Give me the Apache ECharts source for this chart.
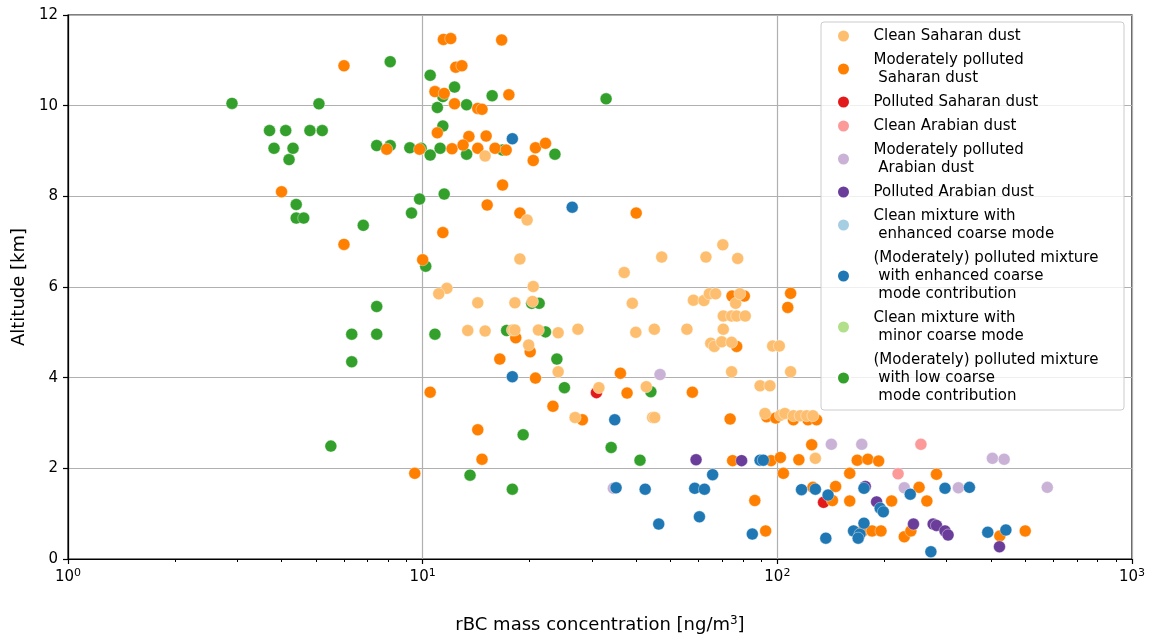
<!DOCTYPE html>
<html>
<head>
<meta charset="utf-8">
<script src="https://cdn.jsdelivr.net/npm/echarts@6/dist/echarts.min.js"></script>
<style>
html,body{margin:0;padding:0;background:#fff;}
#chart{width:1151px;height:637px;}
</style>
</head>
<body>
<div id="chart"></div>
<script>
// ---- Data (x: rBC mass concentration [ng/m3], y: altitude [km]) ----
const cleanSaharan = [
  [15.0,8.89],[19.7,7.48],[18.8,6.62],[11.7,5.97],[11.1,5.85],[20.5,6.01],[14.3,5.65],[18.2,5.65],
  [20.4,5.68],[13.4,5.04],[15.0,5.03],[17.9,5.05],[18.2,5.05],[21.2,5.05],[24.1,4.99],[27.4,5.07],
  [19.9,4.72],[24.1,4.13],[26.9,3.12],[31.4,3.78],[37.0,6.32],[39.0,5.64],[39.9,5.0],[42.7,3.8],
  [44.5,3.12],[45.1,3.12],[45.0,5.07],[47.2,6.66],[55.6,5.07],[58.0,5.71],[62.1,5.7],[62.9,6.66],
  [64.3,5.85],[67.0,5.85],[70.2,6.93],[77.3,6.63],[70.4,5.36],[74.3,5.36],[76.8,5.36],[81.2,5.36],
  [70.4,5.07],[76.3,5.64],[78.4,5.85],[64.9,4.76],[66.4,4.69],[69.7,4.79],[74.3,4.78],[74.3,4.13],
  [97,4.7],[101.3,4.7],[109,4.13],[89.4,3.82],[95.3,3.82],[92.3,3.21],[102,3.17],[105,3.21],
  [111,3.16],[116,3.16],[121,3.16],[126,3.16],[128,2.22]
];
const modPollSaharan = [
  [6.0,10.88],[10.83,10.31],[11.0,9.4],[7.92,9.04],[4.0,8.1],[6.0,6.94],[11.4,7.2],[10.0,6.6],
  [9.8,9.04],[11.44,11.46],[12.0,11.48],[16.7,11.45],[12.4,10.85],[12.9,10.88],[11.5,10.27],[17.5,10.24],
  [12.3,10.04],[14.3,9.94],[14.7,9.92],[13.5,9.32],[15.1,9.33],[12.1,9.05],[13.0,9.13],[14.3,9.06],
  [16.0,9.06],[17.2,9.02],[20.8,9.07],[22.2,9.17],[20.5,8.79],[16.8,8.25],[15.2,7.81],[18.8,7.63],
  [40,7.63],[10.5,3.68],[9.5,1.89],[14.3,2.85],[14.7,2.2],[16.5,4.41],[18.3,4.88],[20.1,4.57],
  [20.8,3.99],[23.3,3.37],[28.2,3.07],[36.1,4.1],[37.7,3.66],[57.6,3.68],[73.6,3.09],[74.5,5.8],
  [80.7,5.8],[76.8,4.69],[109,5.86],[107,5.55],[93.3,3.14],[99,3.11],[111,3.07],[122,3.07],
  [129,3.07],[125,2.52],[74.8,2.17],[96,2.17],[102,2.24],[115,2.19],[104,1.89],[126,1.58],
  [86.4,1.29],[92.7,0.62],[168,2.18],[180,2.2],[193,2.16],[160,1.89],[281,1.87],[146,1.6],
  [143,1.29],[160,1.28],[210,1.28],[251,1.58],[264,1.28],[174,0.62],[185,0.62],[196,0.62],
  [228,0.49],[238,0.62],[424,0.51],[500,0.62]
];
const pollSaharan = [[30.9,3.67],[135,1.25]];
const cleanArabian = [[254,2.53],[219,1.88]];
const modPollArabian = [[46.7,4.07],[142,2.53],[173,2.53],[228,1.57],[324,1.57],[404,2.22],[436,2.2],[577,1.58],[34.5,1.56]];
const pollArabian = [[59.0,2.19],[79.3,2.17],[190.5,1.26],[242,0.77],[275,0.77],[281,0.74],[297,0.62],[303,0.53],[423,0.27],[177,1.6]];
const cleanMixEnhanced = [];
const pollMixEnhanced = [
  [17.9,9.27],[26.4,7.76],[17.9,4.02],[34.8,3.07],[35.1,1.57],[42.4,1.54],[46.3,0.77],[58.5,1.56],
  [62.3,1.54],[65.7,1.86],[60.3,0.93],[85.0,0.55],[89.4,2.18],[91.3,2.18],[117,1.53],[128,1.54],
  [139,1.41],[137,0.46],[164,0.62],[171,0.55],[169,0.46],[175.5,0.79],[175.5,1.56],[195,1.12],
  [199,1.04],[237,1.43],[271,0.16],[297,1.56],[348,1.58],[392,0.59],[441,0.64]
];
const cleanMixMinor = [];
const pollMixLow = [
  [2.9,10.05],[3.7,9.45],[3.81,9.06],[4.11,9.45],[4.2,8.81],[4.31,9.06],[4.4,7.82],[4.4,7.52],
  [4.62,7.52],[4.81,9.45],[5.1,10.04],[5.21,9.45],[5.51,2.49],[6.31,4.96],[6.31,4.35],[6.8,7.36],
  [7.42,9.12],[7.42,5.57],[7.42,4.96],[8.1,10.97],[8.1,9.12],[9.2,9.07],[9.3,7.63],[9.8,7.94],
  [9.9,9.06],[10.2,6.46],[10.5,10.67],[10.5,8.91],[10.83,4.96],[11.0,9.96],[11.2,9.06],[11.4,10.2],
  [11.4,9.55],[11.5,8.05],[12.3,10.41],[13.3,10.02],[13.3,8.93],[13.6,1.85],[15.7,10.22],[16.8,9.02],
  [17.25,5.04],[17.9,1.54],[19.2,2.74],[20.3,5.64],[21.3,5.64],[22.2,5.01],[23.6,8.93],[23.9,4.41],
  [25.1,3.78],[32.9,10.15],[34.0,2.46],[41.0,2.18],[44.0,3.69]
];

const categoryNames = [
  'Clean Saharan dust',
  'Moderately polluted\n Saharan dust',
  'Polluted Saharan dust',
  'Clean Arabian dust',
  'Moderately polluted\n Arabian dust',
  'Polluted Arabian dust',
  'Clean mixture with\n enhanced coarse mode',
  '(Moderately) polluted mixture\n with enhanced coarse\n mode contribution',
  'Clean mixture with\n minor coarse mode',
  '(Moderately) polluted mixture\n with low coarse\n mode contribution'
];
const categoryColors = ['#fdbf6f','#ff7f00','#e31a1c','#fb9a99','#cab2d6','#6a3d9a','#a6cee3','#1f78b4','#b2df8a','#33a02c'];
const categoryData = [cleanSaharan, modPollSaharan, pollSaharan, cleanArabian, modPollArabian, pollArabian,
                      cleanMixEnhanced, pollMixEnhanced, cleanMixMinor, pollMixLow];
// drawing order (bottom -> top)
const drawOrder = [2, 9, 1, 0, 3, 4, 5, 6, 8, 7];

const xMajorTicks = [1, 10, 100, 1000];
const xMinorTicks = [];
[1, 10, 100].forEach(d => { for (let k = 2; k <= 9; k++) xMinorTicks.push(k * d); });
const yTicks = [0, 2, 4, 6, 8, 10, 12];

const FONT = 'DejaVu Sans';
const chart = echarts.init(document.getElementById('chart'));

const series = drawOrder.map(i => ({
  type: 'scatter',
  name: categoryNames[i],
  data: categoryData[i],
  symbol: 'circle',
  symbolSize: 12,
  itemStyle: { color: categoryColors[i], opacity: 1, borderColor: '#ffffff', borderWidth: 0.4 },
  emphasis: { disabled: true },
  xAxisIndex: 0,
  yAxisIndex: 0,
  z: 3
}));

const option = {
  animation: false,
  backgroundColor: '#ffffff',
  textStyle: { fontFamily: FONT },
  grid: {
    left: 68, right: 19, top: 15, bottom: 78,
    outerBoundsMode: 'none',
    containLabel: false,
    show: true, borderColor: '#000000', borderWidth: 1.2, backgroundColor: 'transparent'
  },
  xAxis: [{
    type: 'log', logBase: 10, min: 1, max: 1000,
    position: 'bottom',
    name: '{a|rBC mass concentration [ng/m}{s|3}{a|]}',
    nameLocation: 'middle', nameGap: 56,
    nameTextStyle: {
      rich: {
        a: { fontFamily: FONT, fontSize: 18, color: '#000' },
        s: { fontFamily: FONT, fontSize: 12, color: '#000', padding: [0, 0, 9, 0] }
      }
    },
    axisLine: { show: true, lineStyle: { color: '#000', width: 1.2 } },
    axisTick: { show: true, inside: false, length: 5, lineStyle: { color: '#000', width: 1.2 } },
    axisLabel: {
      margin: 9,
      formatter: function (v) {
        const e = Math.round(Math.log10(v));
        return '{b|10}{s|' + e + '}';
      },
      rich: {
        b: { fontFamily: FONT, fontSize: 15, color: '#000' },
        s: { fontFamily: FONT, fontSize: 11, color: '#000', padding: [0, 0, 8, 0] }
      }
    },
    splitLine: { show: true, lineStyle: { color: '#b0b0b0', width: 1.2 } },
    minorTick: { show: false }
  }, {
    // helper axis (log10 units) used only to draw the minor ticks at 2..9 x 10^n
    type: 'value', min: 0, max: 3,
    position: 'bottom', gridIndex: 0,
    axisLine: { show: false },
    axisLabel: { show: false },
    splitLine: { show: false },
    axisTick: { show: true, inside: false, length: 3,
      customValues: xMinorTicks.map(v => Math.log10(v)),
      lineStyle: { color: '#000', width: 1 } }
  }],
  yAxis: {
    type: 'value', min: 0, max: 12, interval: 2,
    name: 'Altitude [km]', nameLocation: 'middle', nameGap: 40,
    nameTextStyle: { fontFamily: FONT, fontSize: 18, color: '#000' },
    axisLine: { show: true, lineStyle: { color: '#000', width: 1.2 } },
    axisTick: { show: true, inside: false, length: 5, lineStyle: { color: '#000', width: 1.2 } },
    axisLabel: { margin: 10, fontFamily: FONT, fontSize: 15, color: '#000',
      customValues: yTicks },
    splitLine: { show: true, lineStyle: { color: '#b0b0b0', width: 1.2 } }
  },
  legend: {
    show: true,
    orient: 'vertical',
    left: 836, top: 27,
    padding: 0,
    itemGap: 6,
    itemWidth: 50, itemHeight: 13,
    icon: 'circle',
    selectedMode: false,
    data: categoryNames,
    textStyle: { fontFamily: FONT, fontSize: 15, color: '#000', lineHeight: 18 },
    z: 20
  },
  graphic: [{
    type: 'rect',
    shape: { x: 821, y: 22, width: 303, height: 388, r: 3 },
    style: { fill: 'rgba(255,255,255,0.8)', stroke: '#cccccc', lineWidth: 1 },
    z: 10
  }],
  series: series
};
chart.setOption(option);
</script>
</body>
</html>
